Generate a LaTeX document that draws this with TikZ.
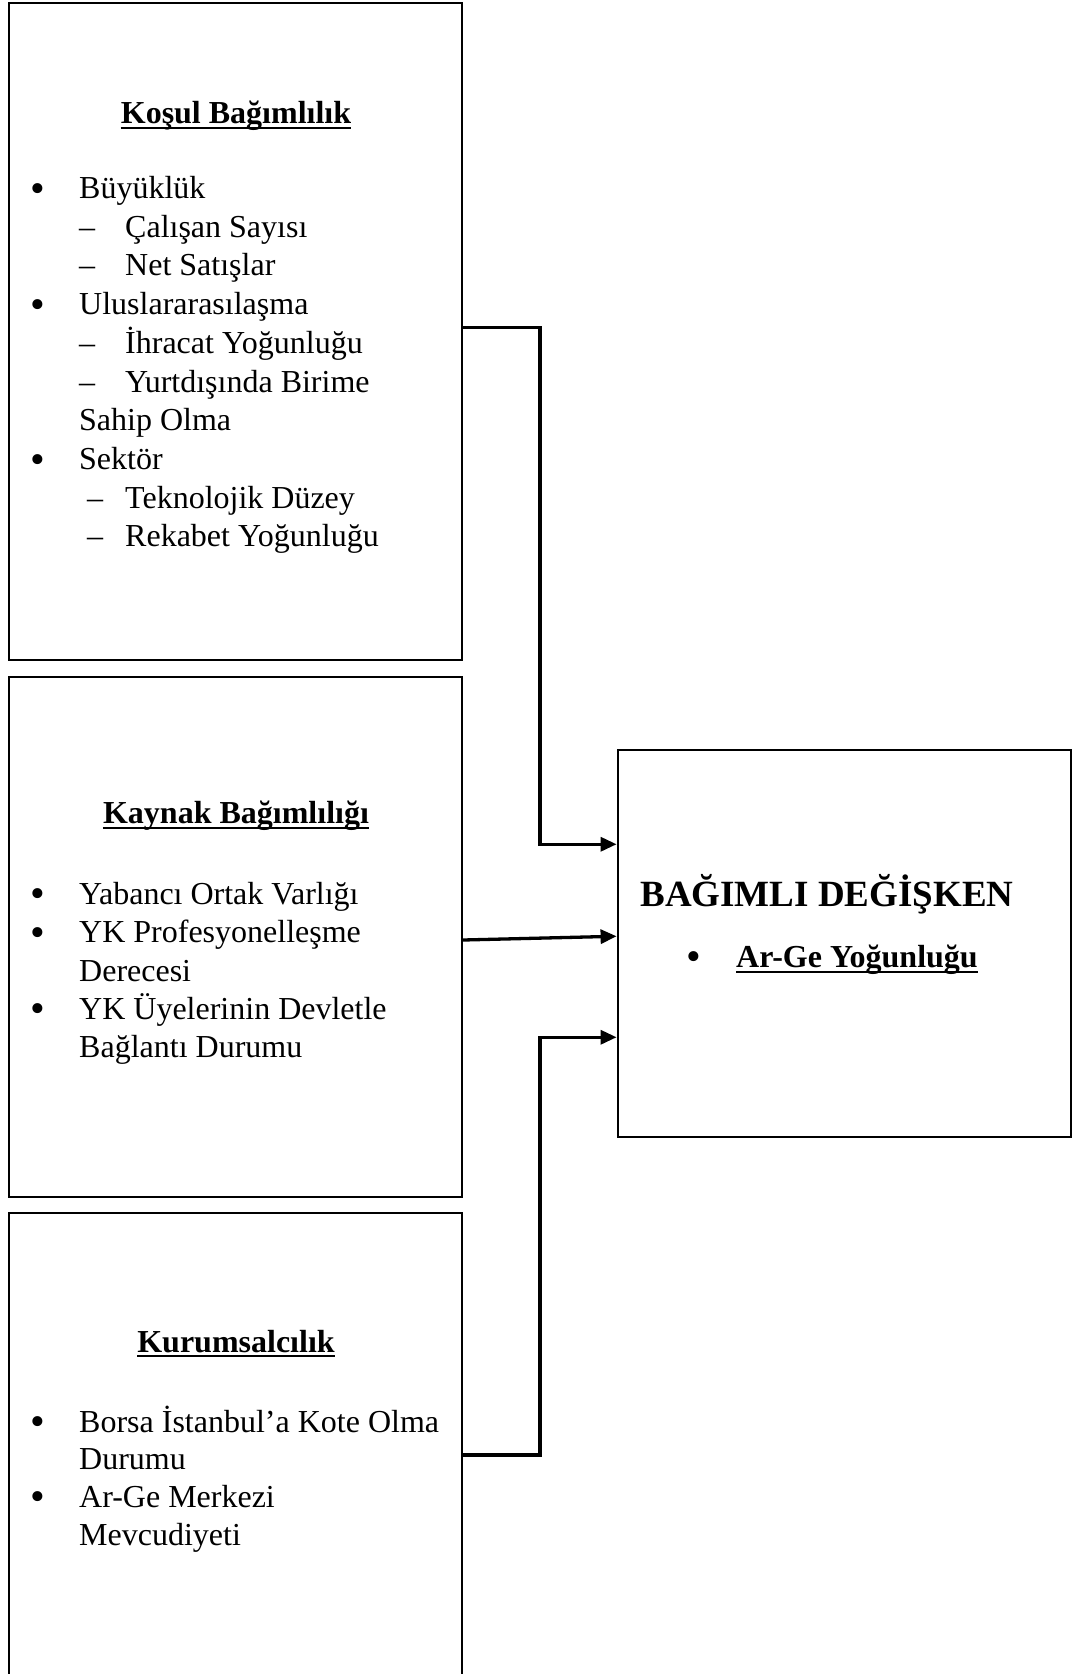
\documentclass[tikz,border=0pt]{standalone}
\usepackage{fontspec}
\setmainfont{Liberation Serif}
\usetikzlibrary{arrows.meta}
\begin{document}
\begin{tikzpicture}[x=1pt,y=-1pt,
  font=\fontsize{32pt}{38pt}\selectfont,
  box/.style={draw,line width=2pt,inner sep=0pt},
  conn/.style={line width=3.3pt,-{Triangle[length=16pt,width=14pt]}},
  txt/.style={anchor=base west,inner sep=0pt},
  ttl/.style={anchor=base,inner sep=0pt,font=\fontsize{32pt}{38pt}\selectfont\bfseries},
  bul/.style={anchor=base,inner sep=0pt,font=\fontsize{42pt}{42pt}\selectfont},
  uline/.style={line width=1.6pt}]
\useasboundingbox (0,0) rectangle (1073,1674);
\clip (0,0) rectangle (1073,1674);
% boxes
\node[box,minimum width=453.5pt,minimum height=657pt] (k) at (235.25,331.5) {};
\node[box,minimum width=453.5pt,minimum height=520pt] (kn) at (235.25,937) {};
\node[box,minimum width=453.5pt,minimum height=507pt] (ku) at (235.25,1466.5) {};
\node[box,minimum width=453.4pt,minimum height=387.5pt] (d) at (844.3,943.25) {};
% box 1
\node[ttl] (t1) at (236,123.6) {Koşul Bağımlılık};
\draw[uline] ([yshift=-4.5pt]t1.base west) -- ([yshift=-4.5pt]t1.base east);
\node[bul] (b11) at (38,202.4) {\smash{•}};
\node[txt] (l11) at (79,198.6) {Büyüklük};
\node[txt] (d12) at (79,237.2) {–};
\node[txt] (l12) at (125,237.2) {Çalışan Sayısı};
\node[txt] (d13) at (79,275.8) {–};
\node[txt] (l13) at (125,275.8) {Net Satışlar};
\node[bul] (b14) at (38,318.2) {\smash{•}};
\node[txt] (l14) at (79,314.4) {Uluslararasılaşma};
\node[txt] (d15) at (79,353.4) {–};
\node[txt] (l15) at (125,353.4) {İhracat Yoğunluğu};
\node[txt] (d16) at (79,392.5) {–};
\node[txt] (l16) at (125,392.5) {Yurtdışında Birime};
\node[txt] (l17) at (79,430.6) {Sahip Olma};
\node[bul] (b18) at (38,473.4) {\smash{•}};
\node[txt] (l18) at (79,469.6) {Sektör};
\node[txt] (d19) at (87,508.2) {–};
\node[txt] (l19) at (125,508.2) {Teknolojik Düzey};
\node[txt] (d110) at (87,546.4) {–};
\node[txt] (l110) at (125,546.4) {Rekabet Yoğunluğu};
% box 2
\node[ttl] (t2) at (236,823.6) {Kaynak Bağımlılığı};
\draw[uline] ([yshift=-4.5pt]t2.base west) -- ([yshift=-4.5pt]t2.base east);
\node[bul] (b21) at (38,907.8) {\smash{•}};
\node[txt] (l21) at (79,904) {Yabancı Ortak Varlığı};
\node[bul] (b22) at (38,946.3) {\smash{•}};
\node[txt] (l22) at (79,942.5) {YK Profesyonelleşme};
\node[txt] (l23) at (79,981) {Derecesi};
\node[bul] (b24) at (38,1022.8) {\smash{•}};
\node[txt] (l24) at (79,1019) {YK Üyelerinin Devletle};
\node[txt] (l25) at (79,1057) {Bağlantı Durumu};
% box 3
\node[ttl] (t3) at (236,1352) {Kurumsalcılık};
\draw[uline] ([yshift=-4pt]t3.base west) -- ([yshift=-4pt]t3.base east);
\node[bul] (b31) at (38,1435.8) {\smash{•}};
\node[txt] (l31) at (79,1432) {Borsa İstanbul’a Kote Olma};
\node[txt] (l32) at (79,1469.5) {Durumu};
\node[bul] (b33) at (38,1510.8) {\smash{•}};
\node[txt] (l33) at (79,1507) {Ar-Ge Merkezi};
\node[txt] (l34) at (79,1545) {Mevcudiyeti};
% box 4
\node[anchor=base,inner sep=0pt,font=\fontsize{37pt}{40pt}\selectfont\bfseries] (t4) at (827,906.8) {BAĞIMLI DEĞİŞKEN};
\node[bul] (b41) at (694,970.8) {\smash{•}};
\node[txt,font=\fontsize{32pt}{38pt}\selectfont\bfseries] (l41) at (736,967) {Ar-Ge Yoğunluğu};
\draw[uline] ([yshift=-5pt]l41.base west) -- ([yshift=-5pt]l41.base east);
% connectors
\draw[conn] ([yshift=4pt]k.east) -- ++(77,0) |- ([yshift=99pt]d.west);
\draw[conn] ([yshift=-3pt]kn.east) -- ([yshift=7pt]d.west);
\draw[conn] ([yshift=11.5pt]ku.east) -- ++(77,0) |- ([yshift=-94pt]d.west);
\end{tikzpicture}
\end{document}
